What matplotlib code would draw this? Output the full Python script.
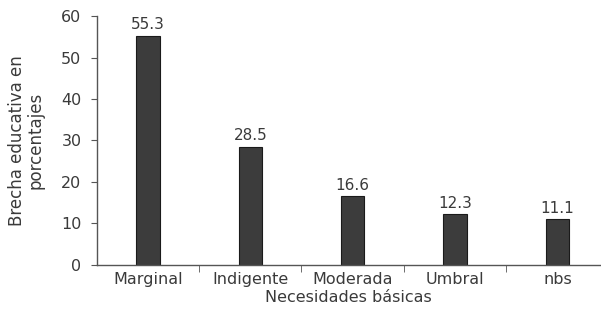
import matplotlib.pyplot as plt

categories = ['Marginal', 'Indigente', 'Moderada', 'Umbral', 'nbs']
values = [55.3, 28.5, 16.6, 12.3, 11.1]
yticks = [0, 10, 20, 30, 40, 50, 60]

plt.rcParams['font.family'] = ['DejaVu Sans']

fig = plt.figure(figsize=(6.01, 3.15), dpi=100)
ax = fig.add_axes([0.161, 0.159, 0.838, 0.790])

pos = list(range(len(categories)))
ax.bar(pos, values, width=0.23, color='#3c3c3c', edgecolor='#1a1a1a', linewidth=0.8)

for x, v in zip(pos, values):
    ax.text(x, v + 0.8, f'{v:.1f}', ha='center', va='bottom', fontsize=11, color='#3a3a3a')

ax.set_xlim(-0.5, 4.42)
ax.set_ylim(0, 60)
ax.set_yticks(yticks)
ax.set_xticks(pos)
ax.set_xticklabels(categories, fontsize=11.5, color='#3a3a3a')
ax.set_xticks([p + 0.5 for p in pos[:-1]], minor=True)
ax.tick_params(axis='x', which='major', length=0, pad=5)
ax.tick_params(axis='x', which='minor', length=5, direction='out', color='#555555')
ax.tick_params(axis='y', length=4, direction='out', color='#555555', labelsize=11.5,
               labelcolor='#3a3a3a', pad=7)

for side in ['top', 'right']:
    ax.spines[side].set_visible(False)
for side in ['left', 'bottom']:
    ax.spines[side].set_color('#555555')
    ax.spines[side].set_linewidth(1.0)

ax.set_xlabel('Necesidades básicas', fontsize=11.5, color='#3a3a3a', labelpad=2)
ax.set_ylabel('Brecha educativa en\nporcentajes', fontsize=12, color='#3a3a3a',
              labelpad=12, linespacing=1.0)

fig.savefig('out.png', dpi=100)
